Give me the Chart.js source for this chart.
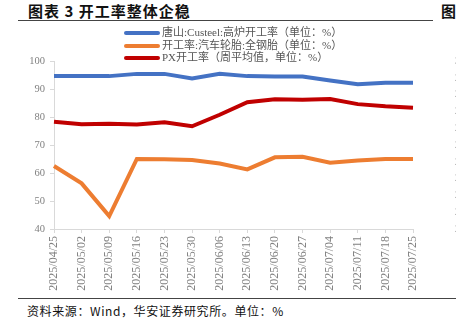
<!DOCTYPE html>
<html>
<head>
<meta charset="utf-8">
<script src="https://cdn.jsdelivr.net/npm/chart.js@4"></script>
<style>
  html, body { margin: 0; padding: 0; background: #fff; }
  body { width: 456px; height: 326px; position: relative; overflow: hidden; font-family: "Noto Sans CJK SC", sans-serif; }
  .title { position: absolute; left: 28px; top: 0px; font-size: 15px; font-weight: bold; color: #111; letter-spacing: 1px; white-space: nowrap; }
  .title2 { position: absolute; left: 441px; top: 0px; font-size: 15px; font-weight: bold; color: #111; }
  .rule { position: absolute; left: 18px; height: 1px; background: #444; }
  .src { position: absolute; left: 27px; top: 302px; font-size: 12px; color: #111; letter-spacing: 0.6px; white-space: nowrap; }
  .legend { position: absolute; left: 124px; top: 26px; font-family: "Liberation Serif", "Noto Sans CJK SC", serif; font-size: 11px; color: #555; }
  .legend div { height: 12.5px; line-height: 12.5px; white-space: nowrap; }
  .legend span { display: inline-block; width: 36px; height: 4px; vertical-align: middle; margin-right: 2px; border-radius: 2px; }
  #wrap { position: absolute; left: 0; top: 20px; width: 470px; height: 278px; }
</style>
</head>
<body>
<div class="title">图表 3 开工率整体企稳</div>
<div class="title2">图</div>
<div class="rule" style="top:20px; width:415px;"></div>
<div class="rule" style="top:298px; width:438px;"></div>
<div id="wrap"><canvas id="chart"></canvas></div>
<div class="legend" id="legend"></div>
<div class="src">资料来源：Wind，华安证券研究所。单位：%</div>
<script>
// 주간 날짜
const dates = ["2025/04/25", "2025/05/02", "2025/05/09", "2025/05/16", "2025/05/23", "2025/05/30", "2025/06/06",
  "2025/06/13", "2025/06/20", "2025/06/27", "2025/07/04", "2025/07/11", "2025/07/18", "2025/07/25"];

const blastFurnace = [94.6, 94.6, 94.6, 95.4, 95.4, 93.8, 95.4, 94.6, 94.5, 94.5, 93.0, 91.7, 92.2, 92.2];
const tyreRate = [62.5, 56.3, 44.6, 65.0, 64.9, 64.6, 63.4, 61.3, 65.6, 65.8, 63.7, 64.5, 65.0, 65.0];
const pxRate = [78.3, 77.4, 77.6, 77.3, 78.1, 76.7, 80.8, 85.3, 86.3, 86.2, 86.4, 84.6, 83.8, 83.3];

const seriesNames = [
  "唐山:Custeel:高炉开工率（单位：%）",
  "开工率:汽车轮胎:全钢胎（单位：%）",
  "PX开工率（周平均值，单位：%）"
];
const seriesColors = ["#4472c4", "#ed7d31", "#c00000"];

const leftTicks = [40, 100, 10];   // min, max, step
const rightTicks = [20, 30, 1];

const tickFont = { family: "Liberation Serif", size: 10.5 };
const gray = "#808080";
const axisLine = "#d9d9d9";

// 범례 (HTML)
const legendEl = document.getElementById("legend");
seriesNames.forEach((name, i) => {
  const row = document.createElement("div");
  row.innerHTML = '<span style="background:' + seriesColors[i] + '"></span>' + name;
  legendEl.appendChild(row);
});

const values = [blastFurnace, tyreRate, pxRate];

new Chart(document.getElementById("chart"), {
  type: "line",
  data: {
    labels: dates,
    datasets: values.map((v, i) => ({
      label: seriesNames[i], data: v, borderColor: seriesColors[i], backgroundColor: seriesColors[i],
      borderWidth: 4, pointRadius: 0, tension: 0, yAxisID: "y"
    }))
  },
  options: {
    responsive: true, maintainAspectRatio: false, animation: false,
    layout: { padding: { top: 41, left: 0, right: 0, bottom: 0 } },
    plugins: { legend: { display: false }, tooltip: { enabled: false } },
    scales: {
      x: {
        offset: false,
        grid: { drawOnChartArea: false, tickLength: 4, color: axisLine },
        border: { color: axisLine },
        ticks: { color: gray, font: { family: "Liberation Serif", size: 12 }, minRotation: 90, maxRotation: 90, padding: 3, autoSkip: false },
        afterFit: (s) => { s.height = 69; }
      },
      y: {
        position: "left", min: leftTicks[0], max: leftTicks[1],
        grid: { drawOnChartArea: false, tickLength: 4, color: axisLine },
        border: { color: axisLine },
        ticks: { stepSize: leftTicks[2], color: gray, font: tickFont, padding: 5 },
        afterFit: (s) => { s.width = 54; }
      },
      y1: {
        position: "right", min: rightTicks[0], max: rightTicks[1],
        grid: { display: false },
        border: { display: false },
        ticks: { stepSize: rightTicks[2], color: gray, font: tickFont, padding: 34 },
        afterFit: (s) => { s.width = 57; }
      }
    }
  }
});
</script>
</body>
</html>
